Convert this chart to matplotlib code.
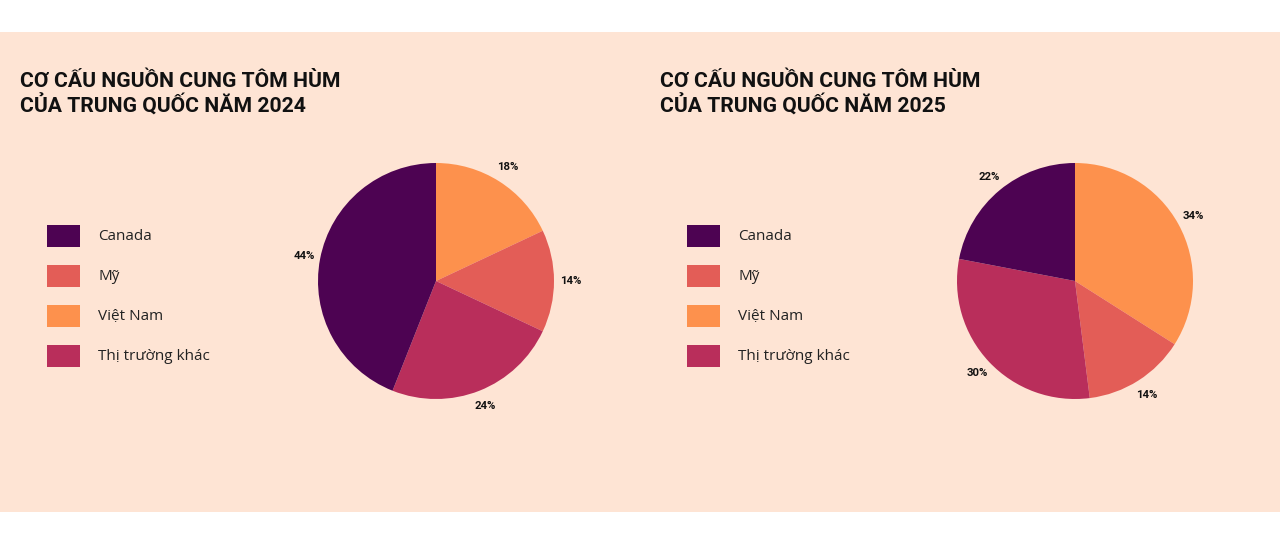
import matplotlib
matplotlib.use('Agg')
import matplotlib.pyplot as plt
from matplotlib.patches import Rectangle

# data
categories = ['Canada', 'Mỹ', 'Việt Nam', 'Thị trường khác']
share_2024 = [44, 14, 18, 24]
share_2025 = [22, 14, 34, 30]
colors = ['#4d0352', '#e35d57', '#fd914d', '#b92e5b']
# order of wedges clockwise from 12 o'clock
pie_order = [2, 1, 3, 0]
titles = [['CƠ CẤU NGUỒN CUNG TÔM HÙM', 'CỦA TRUNG QUỐC NĂM 2024'],
          ['CƠ CẤU NGUỒN CUNG TÔM HÙM', 'CỦA TRUNG QUỐC NĂM 2025']]

W, H = 1280, 550
bg = '#fee4d4'

fig = plt.figure(figsize=(12.8, 5.5), dpi=100)
fig.patch.set_facecolor('white')

# peach panel
fig.add_artist(Rectangle((0, 1 - 512 / H), 1, 480 / H, transform=fig.transFigure,
                         facecolor=bg, edgecolor='none', zorder=0))


def px(x, y):
    return x / W, 1 - y / H


panels = [
    {'x0': 20, 'cx': 436, 'leg_x': 47, 'values': share_2024},
    {'x0': 660, 'cx': 1075, 'leg_x': 687, 'values': share_2025},
]
cy, r = 281, 118

for p, title in zip(panels, titles):
    # title
    fig.text(*px(p['x0'], 87), title[0], fontsize=15.2, fontweight='bold',
             family='Roboto', color='#111111', va='baseline')
    fig.text(*px(p['x0'], 113), title[1], fontsize=15.2, fontweight='bold',
             family='Roboto', color='#111111', va='baseline')

    # legend
    for i, (cat, col) in enumerate(zip(categories, colors)):
        yc = 236 + 40 * i
        x, y = px(p['leg_x'], yc + 11)
        fig.add_artist(Rectangle((x, y), 33 / W, 22 / H, transform=fig.transFigure,
                                 facecolor=col, edgecolor='none'))
        fig.text(*px(p['leg_x'] + 51, yc), cat, fontsize=11, family='Open Sans',
                 color='#222222', va='center')

    # pie
    ax = fig.add_axes([(p['cx'] - r) / W, 1 - (cy + r) / H, 2 * r / W, 2 * r / H])
    vals = [p['values'][k] for k in pie_order]
    cols = [colors[k] for k in pie_order]
    ax.pie(vals, colors=cols, startangle=90, counterclock=False,
           labels=['{}%'.format(v) for v in vals], labeldistance=1.14,
           textprops={'fontsize': 8.2, 'fontweight': 'bold', 'family': 'Roboto',
                      'color': '#111111', 'ha': 'center', 'va': 'center'},
           wedgeprops={'linewidth': 0})
    for t in ax.texts:
        t.set_ha('center')
    ax.set_xlim(-1, 1)
    ax.set_ylim(-1, 1)
    ax.axis('off')

fig.savefig('out.png', dpi=100, facecolor=fig.get_facecolor())
